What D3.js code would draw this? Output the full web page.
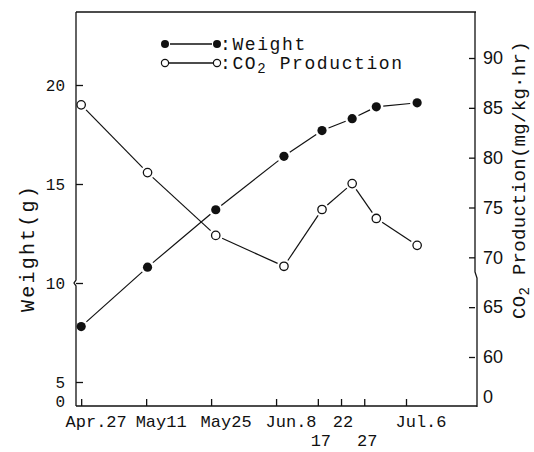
<!DOCTYPE html>
<html><head><meta charset="utf-8">
<script src="https://cdn.jsdelivr.net/npm/d3@7"></script>
<style>
html,body{margin:0;padding:0;background:#fff;}
svg{display:block;}
</style></head>
<body>
<svg id="c" width="534" height="452"></svg>
<script>
// ---- data (days counted from Apr. 27) ----
const sampleDays = [0, 14.3, 29, 43.7, 51.9, 58.4, 63.6, 72.4];
const weight     = [7.8, 10.8, 13.7, 16.4, 17.7, 18.3, 18.9, 19.1];
const co2        = [85.3, 78.5, 72.2, 69.1, 74.8, 77.4, 73.9, 71.2];
const mainTickDays   = [0, 14, 28, 42, 56, 70];
const mainTickLabels = ["Apr.27", "May11", "May25", "Jun.8", "22", "Jul.6"];
const subTickDays    = [51, 61];
const subTickLabels  = ["17", "27"];
const weightTicks = [5, 10, 15, 20];
const co2Ticks    = [60, 65, 70, 75, 80, 85, 90];
const brokenZeroLabel = "0";

const svg = d3.select("#c");
const L = 77, R = 476, T = 12, B = 406;

const x  = d3.scaleLinear().domain([-0.9, 85.3]).range([L, R + 1]);
const yW = d3.scaleLinear().domain([5, 20]).range([382, 85]);
const yC = d3.scaleLinear().domain([60, 90]).range([357, 58]);

const mono = '"Liberation Mono","DejaVu Sans Mono",monospace';
const sans = '"Liberation Sans",Arial,sans-serif';

// frame / axis lines with breaks
const g = svg.append("g").attr("fill", "none").attr("stroke", "#111").attr("stroke-width", 1.3);
g.append("path").attr("d", `M${L-1},${T} H${R}`);
g.append("path").attr("d", `M${L-1},${T} V280 L${L-3},283 L${L-1},286 V${B}`);
g.append("path").attr("d", `M${R-1},${T} V272 L${R+1},278 V${B+1}`);
g.append("path").attr("d", `M${L-1},${B} H${R+1}`);

// left axis
const axL = svg.append("g").attr("transform", `translate(${L-1},0)`)
  .call(d3.axisLeft(yW).tickValues(weightTicks).tickSize(-7).tickPadding(11).tickFormat(d3.format("d")));
axL.select(".domain").remove();
axL.selectAll("line").attr("stroke", "#111").attr("stroke-width", 1.3);
axL.selectAll("text").attr("font-family", mono).attr("font-size", 16).attr("fill", "#111");
svg.append("text").attr("x", L - 12).attr("y", B - 3).attr("text-anchor", "end")
  .attr("dominant-baseline", "middle")
  .attr("font-family", mono).attr("font-size", 16).attr("fill", "#111").text(brokenZeroLabel);

// right axis
const axR = svg.append("g").attr("transform", `translate(${R-1},0)`)
  .call(d3.axisRight(yC).tickValues(co2Ticks).tickSize(-6).tickPadding(8).tickFormat(d3.format("d")));
axR.select(".domain").remove();
axR.selectAll("line").attr("stroke", "#111").attr("stroke-width", 1.3);
axR.selectAll("text").attr("font-family", sans).attr("font-size", 18).attr("fill", "#111");
svg.append("text").attr("x", R + 7).attr("y", B - 8).attr("dominant-baseline", "middle")
  .attr("font-family", sans).attr("font-size", 18).attr("fill", "#111").text(brokenZeroLabel);

// bottom axis
const axB = svg.append("g").attr("transform", `translate(0,${B})`)
  .call(d3.axisBottom(x).tickValues(mainTickDays.concat(subTickDays)).tickSize(-7).tickFormat(""));
axB.select(".domain").remove();
axB.selectAll("line").attr("stroke", "#111").attr("stroke-width", 1.3);
svg.append("g").selectAll("text").data(mainTickDays).join("text")
  .attr("x", (d, i) => x(d) + (mainTickLabels[i].length > 2 ? 15 : 2))
  .attr("y", 427).attr("text-anchor", "middle")
  .attr("font-family", mono).attr("font-size", 17).attr("fill", "#111")
  .text((d, i) => mainTickLabels[i]);
svg.append("g").selectAll("text").data(subTickDays).join("text")
  .attr("x", (d, i) => x(d) + 3)
  .attr("y", 446).attr("text-anchor", "middle")
  .attr("font-family", mono).attr("font-size", 17).attr("fill", "#111")
  .text((d, i) => subTickLabels[i]);

// axis titles
svg.append("text").attr("transform", `translate(34,248) rotate(-90)`).attr("text-anchor", "middle")
  .attr("font-family", mono).attr("font-size", 20).attr("letter-spacing", 2.2).attr("fill", "#111")
  .text("Weight(g)");
const rt = svg.append("text").attr("transform", `translate(525,180) rotate(-90)`).attr("text-anchor", "middle")
  .attr("font-family", mono).attr("font-size", 19).attr("letter-spacing", 0.3).attr("fill", "#111");
rt.append("tspan").text("CO");
rt.append("tspan").attr("font-size", 14).attr("dy", 4).text("2");
rt.append("tspan").attr("dy", -4).text(" Production(mg/kg\u00b7hr)");

// series lines with gaps near markers
function seg(vals, ys) {
  const pts = sampleDays.map((d, i) => [x(d), ys(vals[i])]);
  const out = [];
  for (let i = 0; i < pts.length - 1; i++) {
    const [x1, y1] = pts[i], [x2, y2] = pts[i + 1];
    const dx = x2 - x1, dy = y2 - y1, len = Math.hypot(dx, dy), gap = 7;
    out.push([x1 + dx * gap / len, y1 + dy * gap / len, x2 - dx * gap / len, y2 - dy * gap / len]);
  }
  return out;
}
const lg = svg.append("g").attr("stroke", "#111").attr("stroke-width", 1.2);
lg.selectAll("line.w").data(seg(weight, yW)).join("line").attr("class", "w")
  .attr("x1", d => d[0]).attr("y1", d => d[1]).attr("x2", d => d[2]).attr("y2", d => d[3]);
lg.selectAll("line.c").data(seg(co2, yC)).join("line").attr("class", "c")
  .attr("x1", d => d[0]).attr("y1", d => d[1]).attr("x2", d => d[2]).attr("y2", d => d[3]);

svg.append("g").selectAll("circle").data(sampleDays).join("circle")
  .attr("cx", d => x(d)).attr("cy", (d, i) => yW(weight[i])).attr("r", 4.6).attr("fill", "#111");
svg.append("g").selectAll("circle").data(sampleDays).join("circle")
  .attr("cx", d => x(d)).attr("cy", (d, i) => yC(co2[i])).attr("r", 4.2)
  .attr("fill", "#fff").attr("stroke", "#111").attr("stroke-width", 1.3);

// legend
const leg = svg.append("g");
leg.append("circle").attr("cx", 165).attr("cy", 44).attr("r", 4).attr("fill", "#111");
leg.append("circle").attr("cx", 217).attr("cy", 44).attr("r", 4).attr("fill", "#111");
leg.append("line").attr("x1", 170).attr("x2", 212).attr("y1", 44).attr("y2", 44).attr("stroke", "#111").attr("stroke-width", 1.3);
leg.append("text").attr("x", 220).attr("y", 50).attr("font-family", mono).attr("font-size", 18)
  .attr("letter-spacing", 1.6).attr("fill", "#111").text(":Weight");
leg.append("circle").attr("cx", 165).attr("cy", 63).attr("r", 3.6).attr("fill", "#fff").attr("stroke", "#111").attr("stroke-width", 1.2);
leg.append("circle").attr("cx", 217).attr("cy", 63).attr("r", 3.6).attr("fill", "#fff").attr("stroke", "#111").attr("stroke-width", 1.2);
leg.append("line").attr("x1", 169).attr("x2", 213).attr("y1", 63).attr("y2", 63).attr("stroke", "#111").attr("stroke-width", 1.3);
const lt = leg.append("text").attr("x", 220).attr("y", 69).attr("font-family", mono).attr("font-size", 18)
  .attr("letter-spacing", 1.6).attr("fill", "#111");
lt.append("tspan").text(":CO");
lt.append("tspan").attr("font-size", 14).attr("dy", 4).text("2");
lt.append("tspan").attr("dy", -4).text(" Production");
</script>
</body></html>
